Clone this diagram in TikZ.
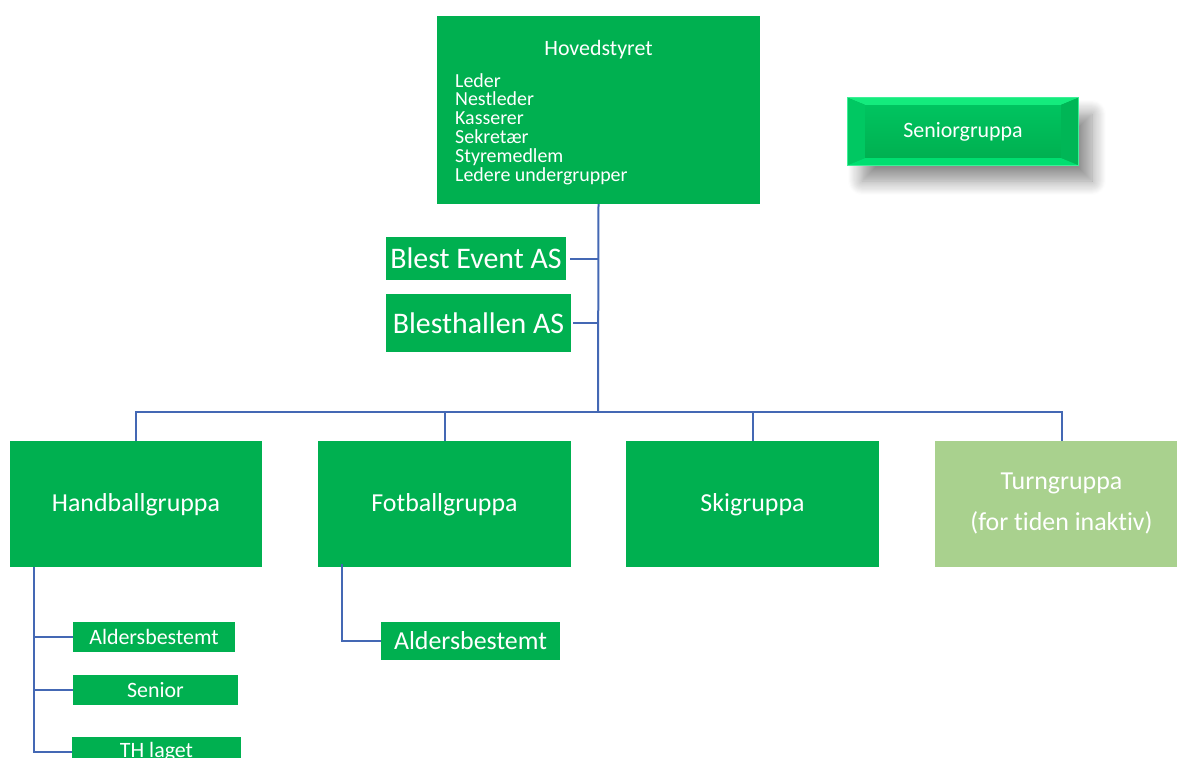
\documentclass[tikz,border=0pt]{standalone}
\usepackage{fontspec}
\setmainfont{Carlito}[Ligatures=NoCommon]
\usetikzlibrary{shadows.blur}
\definecolor{ogreen}{RGB}{0,176,80}
\definecolor{lgreen}{RGB}{169,209,142}
\definecolor{oline}{RGB}{68,104,180}
\tikzset{
  gbox/.style={fill=ogreen, text=white, inner sep=0pt, anchor=center},
  conn/.style={draw=oline, line width=2bp},
}
\begin{document}
\begin{tikzpicture}[x=1bp,y=-1bp]
\useasboundingbox (0,0) rectangle (1177,758);
% Hovedstyret
\node[gbox, minimum width=323bp, minimum height=188bp] (hs) at (598.5,110) {};
\node[text=white, inner sep=0pt, font=\fontsize{22}{24}\selectfont] (hst) at (598.5,50) {Hovedstyret};
\node[text=white, inner sep=0pt, anchor=north west, align=left, font=\fontsize{20}{19}\selectfont] (hsl) at (455,73)
  {Leder\\Nestleder\\Kasserer\\Sekret\ae r\\Styremedlem\\Ledere undergrupper};
% Seniorgruppa
\node[fill=ogreen, minimum width=230bp, minimum height=67bp, inner sep=0pt,
  blur shadow={shadow xshift=14bp, shadow yshift=-16bp, shadow blur steps=14, shadow blur radius=14bp, shadow opacity=45}] (sg) at (963,131.5) {};
\shade[top color={rgb,255:red,0;green,196;blue,96}, bottom color={rgb,255:red,0;green,176;blue,80}] ([xshift=17bp,yshift=-7bp]sg.north west) rectangle ([xshift=-17bp,yshift=7bp]sg.south east);
\fill[color={rgb,255:red,20;green,235;blue,125}] (sg.north west) -- (sg.north east) -- ([xshift=-17bp,yshift=-7bp]sg.north east) -- ([xshift=17bp,yshift=-7bp]sg.north west) -- cycle;
\fill[color={rgb,255:red,0;green,200;blue,98}] (sg.north west) -- ([xshift=17bp,yshift=-7bp]sg.north west) -- ([xshift=17bp,yshift=7bp]sg.south west) -- (sg.south west) -- cycle;
\fill[color={rgb,255:red,0;green,182;blue,86}] (sg.north east) -- ([xshift=-17bp,yshift=-7bp]sg.north east) -- ([xshift=-17bp,yshift=7bp]sg.south east) -- (sg.south east) -- cycle;
\fill[color={rgb,255:red,0;green,222;blue,112}] (sg.south west) -- ([xshift=17bp,yshift=7bp]sg.south west) -- ([xshift=-17bp,yshift=7bp]sg.south east) -- (sg.south east) -- cycle;
\draw[color={rgb,255:red,60;green,240;blue,150}, line width=0.8bp] (sg.north west) rectangle (sg.south east);
\node[text=white, inner sep=0pt, font=\fontsize{22}{26}\selectfont] (sgt) at (sg.center) {Seniorgruppa};
% companies
\node[gbox, minimum width=180bp, minimum height=43bp, font=\fontsize{30}{32}\selectfont] (be) at (476,258.5) {Blest Event AS};
\node[gbox, minimum width=185bp, minimum height=58bp, font=\fontsize{30}{32}\selectfont] (bh) at (478.5,323) {Blesthallen AS};
% groups
\node[gbox, minimum width=252bp, minimum height=126bp, text depth=2bp, font=\fontsize{26}{30}\selectfont] (hb) at (136,504) {Handballgruppa};
\node[gbox, minimum width=253bp, minimum height=126bp, text depth=2bp, font=\fontsize{26}{30}\selectfont] (fb) at (444.5,504) {Fotballgruppa};
\node[gbox, minimum width=253bp, minimum height=126bp, text depth=2bp, font=\fontsize{26}{30}\selectfont] (sk) at (752.5,504) {Skigruppa};
\node[gbox, fill=lgreen, minimum width=253bp, minimum height=126bp, align=center, text depth=4bp, font=\fontsize{26}{41}\selectfont] (tg) at (1061.5,504) {Turngruppa\\(for tiden inaktiv)};
% subgroups
\node[gbox, minimum width=162bp, minimum height=30bp, font=\fontsize{22}{26}\selectfont] (ha) at (154,637) {Aldersbestemt};
\node[gbox, minimum width=165bp, minimum height=30bp, font=\fontsize{22}{26}\selectfont] (hs2) at (155.5,690) {Senior};
\node[gbox, minimum width=169bp, minimum height=30bp, font=\fontsize{22}{26}\selectfont] (th) at (156.5,752) {TH laget};
\node[gbox, minimum width=179bp, minimum height=38bp, font=\fontsize{26}{30}\selectfont] (fa) at (470.5,641) {Aldersbestemt};
% connectors
\coordinate (j) at (598,412);
\draw[conn] (hs.south) -- (j);
\draw[conn] ([xshift=4bp]be.east) -- (be.east -| j);
\draw[conn] ([xshift=2bp]bh.east) -- (bh.east -| j);
\draw[conn] (hb.north) |- (tg.north |- j) -- (tg.north);
\draw[conn] (fb.north) -- (fb.north |- j);
\draw[conn] (sk.north) -- (sk.north |- j);
\coordinate (hbv) at ([xshift=24bp]hb.south west);
\draw[conn] (hbv) |- (th.west);
\draw[conn] (ha.west) -- (ha.west -| hbv);
\draw[conn] (hs2.west) -- (hs2.west -| hbv);
\coordinate (fbv) at ([xshift=24bp,yshift=3bp]fb.south west);
\draw[conn] (fbv) |- (fa.west);
\end{tikzpicture}
\end{document}
